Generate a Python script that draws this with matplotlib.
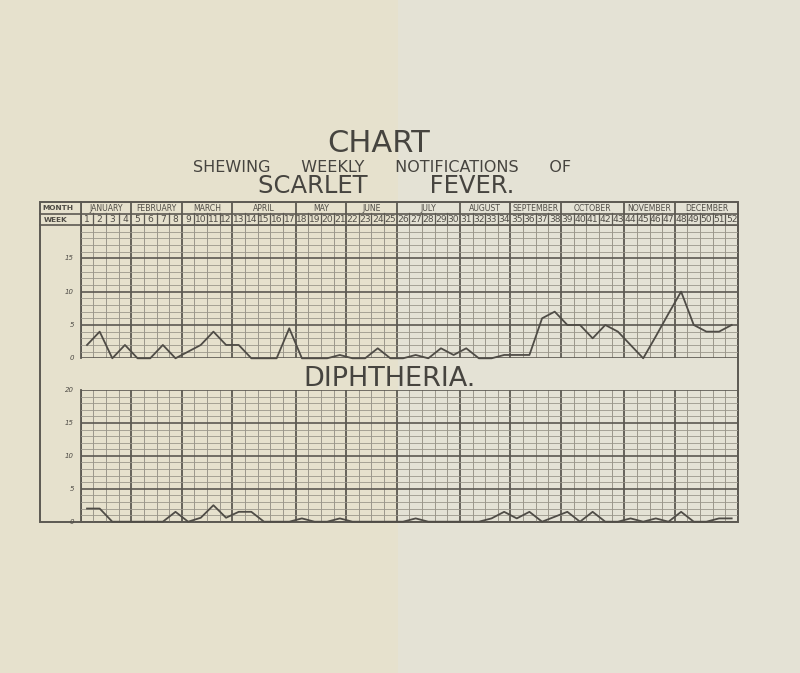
import numpy as np
import matplotlib.pyplot as plt
from matplotlib.patches import Rectangle

# weekly notifications
weeks = np.arange(1, 53)
scarlet_fever = [2, 4, 0, 2, 0, 0, 2, 0, 1, 2, 4, 2, 2, 0, 0, 0, 4.5,
                 0, 0, 0, 0.5, 0, 0, 1.5, 0, 0, 0.5, 0, 1.5, 0.5, 1.5, 0, 0, 0.5,
                 0.5, 0.5, 6, 7, 5, 5, 3, 5, 4, 2, 0, 3.3, 6.7, 10, 5, 4, 4, 5]
diphtheria = [2, 2, 0, 0, 0, 0, 0, 1.5, 0, 0.6, 2.5, 0.6, 1.5, 1.5, 0, 0, 0,
              0.5, 0, 0, 0.5, 0, 0, 0, 0, 0, 0.5, 0, 0, 0, 0, 0, 0.5, 1.5,
              0.5, 1.5, 0, 0.75, 1.5, 0, 1.5, 0, 0, 0.5, 0, 0.5, 0, 1.5, 0, 0, 0.5, 0.5]

months = ['JANUARY', 'FEBRUARY', 'MARCH', 'APRIL', 'MAY', 'JUNE', 'JULY',
          'AUGUST', 'SEPTEMBER', 'OCTOBER', 'NOVEMBER', 'DECEMBER']
month_weeks = [4, 4, 4, 5, 4, 4, 5, 4, 4, 5, 4, 5]
scarlet_ticks = [0, 5, 10, 15]
diph_ticks = [0, 5, 10, 15, 20]

W, H = 800, 673
X0, X1 = 80.7, 738          # week grid, pixels
PAPER = '#e6e1cd'
INK = '#4f4c46'
MINOR = '#9b978b'
MAJOR = '#5c5952'

bounds = np.concatenate([[0], np.cumsum(month_weeks)])

fig = plt.figure(figsize=(8, 6.73), dpi=100)
fig.patch.set_facecolor(PAPER)

# page / frame layer in pixel coordinates
base = fig.add_axes([0, 0, 1, 1])
base.set_xlim(0, W)
base.set_ylim(H, 0)
base.axis('off')
base.add_patch(Rectangle((398, 0), 402, H, color='#e4e2d5', lw=0, zorder=0))


def px_axes(top, bottom):
    return fig.add_axes([X0 / W, 1 - bottom / H, (X1 - X0) / W, (bottom - top) / H])


def grid_panel(top, bottom, values):
    ax = px_axes(top, bottom)
    ax.set_xlim(0, 52)
    ax.set_ylim(0, 20)
    ax.axis('off')
    ax.patch.set_alpha(0)
    for w in range(53):
        major = w in bounds
        ax.axvline(w, color=MAJOR if major else MINOR, lw=1.3 if major else 0.7)
    for v in range(21):
        major = v % 5 == 0
        ax.axhline(v, color=MAJOR if major else MINOR, lw=1.2 if major else 0.6)
    ax.plot(weeks - 0.5, values, color=INK, lw=1.3, clip_on=False, zorder=5)
    return ax


grid_panel(225, 358.3, scarlet_fever)
grid_panel(390, 521.7, diphtheria)

# header rows: MONTH / WEEK
hdr = px_axes(202, 225)
hdr.set_xlim(0, 52)
hdr.set_ylim(2, 0)
hdr.axis('off')
hdr.patch.set_alpha(0)
for w in range(53):
    if w in bounds:
        hdr.plot([w, w], [0, 2], color=MAJOR, lw=1.3)
    else:
        hdr.plot([w, w], [1, 2], color=MAJOR, lw=0.9)
for i, name in enumerate(months):
    hdr.text((bounds[i] + bounds[i + 1]) / 2, 0.55, name, ha='center', va='center',
             fontsize=5.6, color=INK)
for w in weeks:
    hdr.text(w - 0.5, 1.55, str(w), ha='center', va='center', fontsize=6.6, color=INK)

# outer frame and left label column
base.add_patch(Rectangle((40, 202), X1 - 40, 521.7 - 202, fill=False, ec=MAJOR, lw=1.4))
base.plot([40, X1], [214, 214], color=MAJOR, lw=1.2)
base.plot([40, X1], [225, 225], color=MAJOR, lw=1.2)
base.plot([X0, X0], [202, 358.3], color=MAJOR, lw=1.3)
base.plot([X0, X0], [390, 521.7], color=MAJOR, lw=1.3)
base.text(58, 208.5, 'MONTH', ha='center', va='center', fontsize=5.3, color=INK, weight='bold')
base.text(56, 220, 'WEEK', ha='center', va='center', fontsize=5.3, color=INK, weight='bold')

for t in scarlet_ticks:
    base.text(74, 358.3 - t * 133.3 / 20, str(t), ha='right', va='center',
              fontsize=5, style='italic', color=INK)
for t in diph_ticks:
    base.text(74, 521.7 - t * 131.7 / 20, str(t), ha='right', va='center',
              fontsize=5, style='italic', color=INK)

# titles
TITLE = '#46443f'
base.text(379, 143, 'CHART', ha='center', va='center', fontsize=22, color=TITLE)
base.text(382, 167, 'SHEWING      WEEKLY      NOTIFICATIONS      OF', ha='center',
          va='center', fontsize=11.5, color=TITLE)
base.text(386, 186, 'SCARLET        FEVER.', ha='center', va='center', fontsize=17.5,
          color=TITLE)
base.text(390, 379, 'DIPHTHERIA.', ha='center', va='center', fontsize=19.5, color=TITLE)

fig.savefig('out.png', dpi=100, facecolor=fig.get_facecolor())
